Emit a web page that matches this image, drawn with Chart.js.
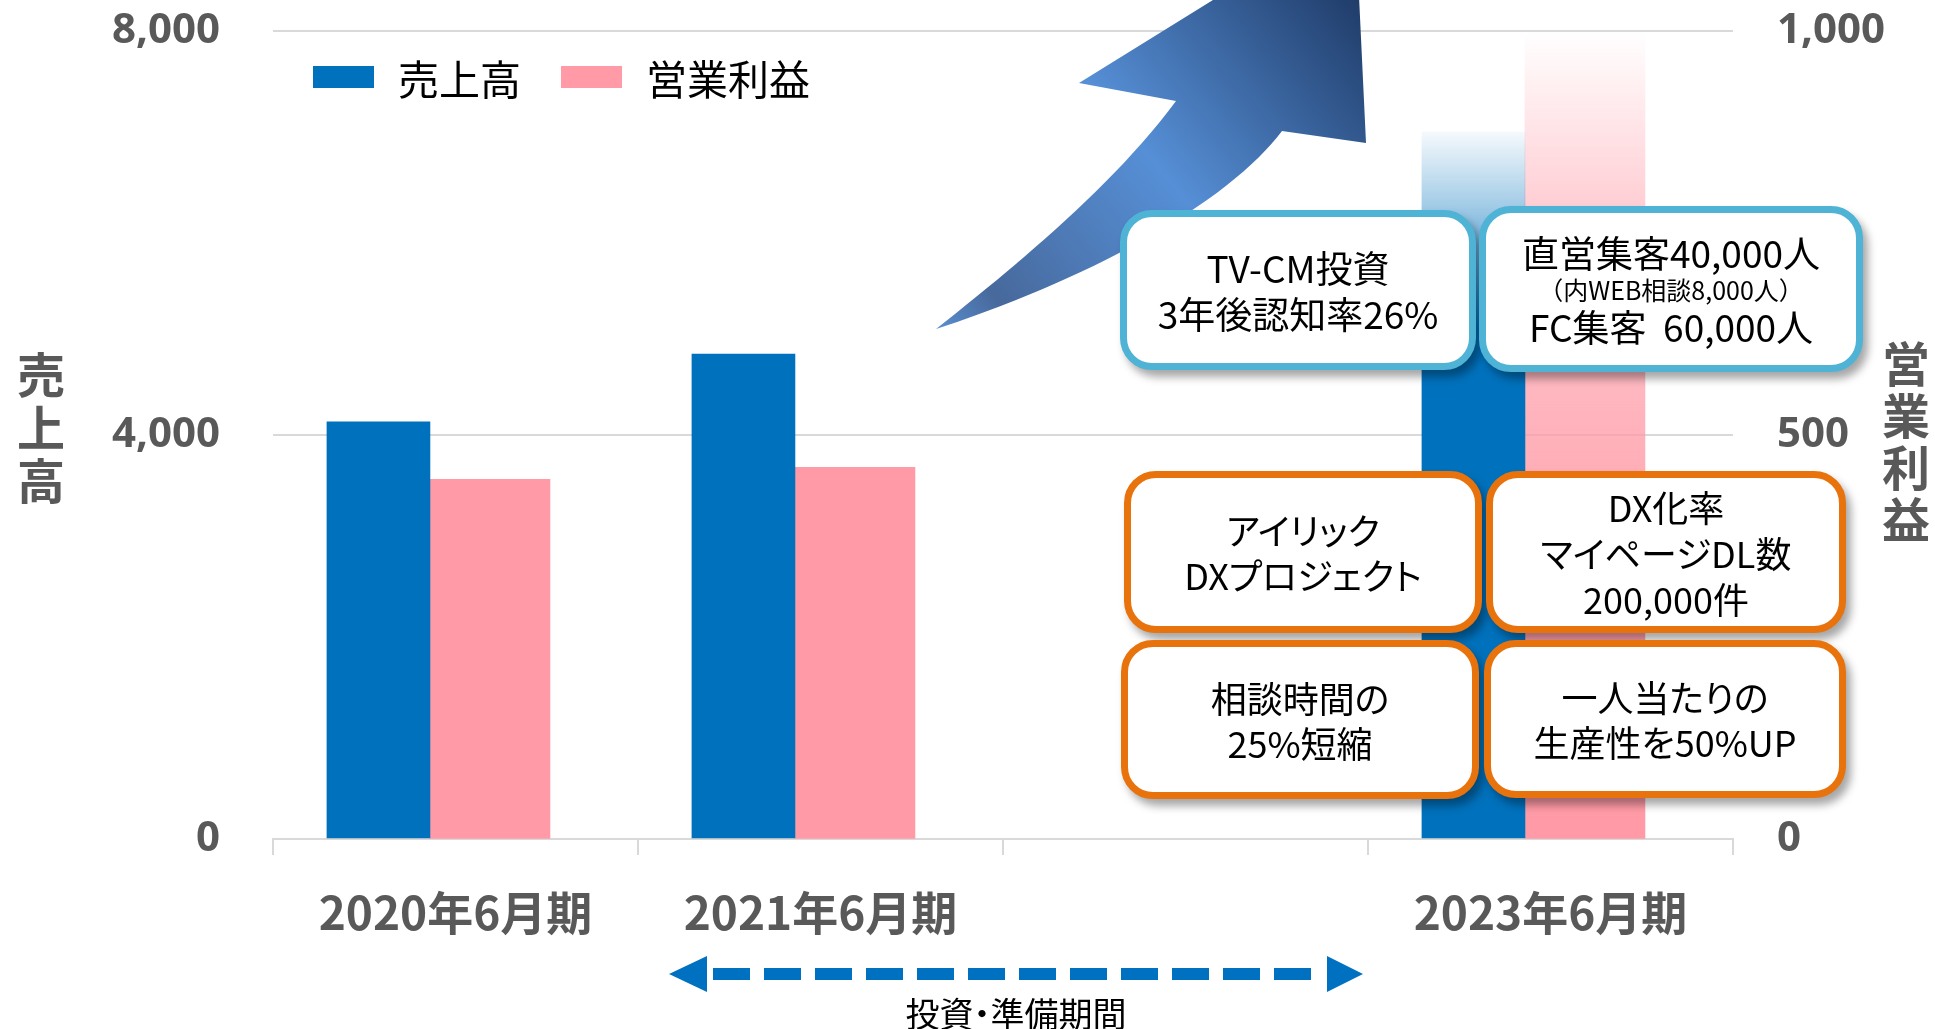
<!DOCTYPE html>
<html lang="ja">
<head>
<meta charset="utf-8">
<title>売上高・営業利益</title>
<script src="https://cdn.jsdelivr.net/npm/chart.js@4.4.1/dist/chart.umd.min.js"></script>
<style>
  html, body { margin: 0; padding: 0; background: #fff; }
  body { width: 1935px; height: 1029px; overflow: hidden; position: relative; font-family: 'Noto Sans CJK JP', sans-serif; }
  #wrap { position: absolute; left: 0; top: 0; width: 1935px; height: 1029px; }
  .axis-title { position: absolute; writing-mode: vertical-rl; text-orientation: upright; font-weight: 700; font-size: 48px; line-height: 48px; color: #595959; }
  #legend { position: absolute; left: 313px; top: 52px; display: flex; align-items: center; font-size: 41px; line-height: 50px; color: #000; }
  #legend .item { display: flex; align-items: center; margin-right: 40px; }
  #legend .swatch { width: 61px; height: 22px; margin-right: 24px; }
  .note { position: absolute; box-sizing: border-box; background: #fff; border-radius: 32px; border: 7px solid #4FB3D6;
          box-shadow: 5px 7px 8px rgba(0,0,0,0.35); display: flex; flex-direction: column; align-items: center; justify-content: center;
          text-align: center; color: #000; font-size: 36px; line-height: 45px; font-feature-settings: "palt"; white-space: pre; }
  .note.orange { border-color: #E8720C; }
  .note .small { font-size: 25px; line-height: 36px; }
  svg.overlay { position: absolute; left: 0; top: 0; width: 1935px; height: 1029px; pointer-events: none; }
  #period { position: absolute; left: 816px; width: 400px; top: 993px; text-align: center; font-size: 34px; line-height: 40px; color: #000; font-feature-settings: "palt"; }
</style>
</head>
<body>
<div id="wrap"><canvas id="chart"></canvas></div>

<svg class="overlay" viewBox="0 0 1935 1029">
  <defs>
    <linearGradient id="upGrad" gradientUnits="userSpaceOnUse" x1="936" y1="329" x2="1360" y2="-20">
      <stop offset="0" stop-color="#5A8FD0"/>
      <stop offset="0.12" stop-color="#47699C"/>
      <stop offset="0.5" stop-color="#568FD6"/>
      <stop offset="1" stop-color="#1D3864"/>
    </linearGradient>
  </defs>
  <path d="M936 329 C1010 270 1110 190 1176 101 L1079 83 L1355 -88 L1366 143 L1282 131 C1230 200 1100 275 936 329 Z" fill="url(#upGrad)"/>
</svg>

<div class="axis-title" style="left:17px; top:351px; letter-spacing:5px;">売上高</div>
<div class="axis-title" style="left:1882px; top:340px; letter-spacing:4px;">営業利益</div>

<div id="legend"></div>

<div class="note" style="left:1120px; top:210px; width:356px; height:160px; font-size:37px; line-height:46px; font-feature-settings:normal;">
  <div>TV-CM投資</div><div>3年後認知率26%</div>
</div>
<div class="note" style="left:1479px; top:206px; width:384px; height:166px; line-height:38px; font-feature-settings:normal;">
  <div style="font-size:37px;">直営集客40,000人</div>
  <div class="small">（内WEB相談8,000人）</div>
  <div style="font-size:37px;">FC集客  60,000人</div>
</div>
<div class="note orange" style="left:1124px; top:471px; width:358px; height:162px;">
  <div>アイリック</div><div>DXプロジェクト</div>
</div>
<div class="note orange" style="left:1486px; top:471px; width:360px; height:162px; line-height:46px;">
  <div>DX化率</div><div>マイページDL数</div><div>200,000件</div>
</div>
<div class="note orange" style="left:1121px; top:640px; width:358px; height:159px;">
  <div>相談時間の</div><div>25%短縮</div>
</div>
<div class="note orange" style="left:1484px; top:640px; width:362px; height:158px;">
  <div>一人当たりの</div><div>生産性を50%UP</div>
</div>

<svg class="overlay" viewBox="0 0 1935 1029">
  <line x1="713" y1="974" x2="1322" y2="974" stroke="#0070C0" stroke-width="12" stroke-dasharray="37 14"/>
  <polygon points="669,974 707,956 707,992" fill="#0070C0"/>
  <polygon points="1363,974 1327,956 1327,992" fill="#0070C0"/>
</svg>
<div id="period">投資・準備期間</div>

<script>
// chart data
const categories = ['2020年6月期', '2021年6月期', '', '2023年6月期'];
const sales = [4130, 4800, null, 7000];      // 売上高 (left axis)
const profit = [445, 460, null, 1000];       // 営業利益 (right axis)
const salesTicks = [0, 4000, 8000];
const profitTicks = [0, 500, 1000];

const BLUE = '0,113,188';
const PINK = '255,154,166';
const GRAY = '#595959';
const GRID = '#D9D9D9';

// the last period is still a forecast, so its bars fade out towards the top
function fadeFill(rgb, stops) {
    return (c) => {
        const chart = c.chart;
        if (c.dataIndex !== categories.length - 1 || !chart.chartArea) {
            return 'rgb(' + rgb + ')';
        }
        const scale = chart.scales[c.dataset.yAxisID];
        const top = scale.getPixelForValue(c.raw.y);
        const bottom = scale.getPixelForValue(0);
        const g = chart.ctx.createLinearGradient(0, top, 0, bottom);
        stops.forEach(([pos, a]) => g.addColorStop(pos, 'rgba(' + rgb + ',' + a + ')'));
        return g;
    };
}

const toPoints = (arr) => arr.map((v, i) => ({ x: i, y: v }));

// the pair of bars sits a little left of the category centre
const barShift = 0.07;

const tickFont = { family: "'Open Sans', 'Noto Sans CJK JP'", size: 42, weight: 'bold' };

const chart = new Chart(document.getElementById('chart').getContext('2d'), {
    type: 'bar',
    data: {
        labels: categories,
        datasets: [{
            label: '売上高',
            data: toPoints(sales),
            xAxisID: 'xb',
            yAxisID: 'y',
            barThickness: 103,
            backgroundColor: fadeFill(BLUE, [[0, 0.04], [0.1, 0.35], [0.28, 1], [1, 1]])
        }, {
            label: '営業利益',
            data: toPoints(profit),
            xAxisID: 'xb',
            yAxisID: 'y1',
            barThickness: 120,
            backgroundColor: fadeFill(PINK, [[0, 0], [0.215, 0.48], [0.49, 0.76], [0.75, 0.95], [1, 1]])
        }]
    },
    options: {
        responsive: true,
        maintainAspectRatio: false,
        animation: false,
        layout: { padding: { top: 31, left: 0, right: 0, bottom: 0 } },
        plugins: {
            legend: { display: false },
            tooltip: { enabled: false }
        },
        scales: {
            x: {
                type: 'category',
                position: 'bottom',
                offset: true,
                grid: { offset: true, drawOnChartArea: false, color: GRID, lineWidth: 2, tickLength: 16 },
                border: { color: GRID, width: 2 },
                ticks: {
                    color: GRAY,
                    font: { family: "'Noto Sans CJK JP'", size: 46, weight: 'bold' },
                    padding: 30,
                    maxRotation: 0,
                    autoSkip: false
                },
                afterFit: (s) => { s.height = 190; }
            },
            xb: {
                type: 'linear',
                display: false,
                bounds: 'data',
                offset: false,
                grid: { offset: false },
                min: -0.5 + barShift,
                max: categories.length - 0.5 + barShift
            },
            y: {
                position: 'left',
                min: salesTicks[0],
                max: salesTicks[salesTicks.length - 1],
                afterBuildTicks: (s) => { s.ticks = salesTicks.map(v => ({ value: v })); },
                ticks: {
                    color: GRAY,
                    font: tickFont,
                    padding: 0,
                    callback: (v) => v.toLocaleString('en-US')
                },
                // invisible tick marks give the gap between labels and plot
                grid: { color: GRID, lineWidth: 2, drawTicks: true, tickLength: 53, tickColor: 'rgba(0,0,0,0)' },
                border: { display: false },
                afterFit: (s) => { s.width = 273; }
            },
            y1: {
                position: 'right',
                min: profitTicks[0],
                max: profitTicks[profitTicks.length - 1],
                afterBuildTicks: (s) => { s.ticks = profitTicks.map(v => ({ value: v })); },
                ticks: {
                    color: GRAY,
                    font: tickFont,
                    padding: 0,
                    callback: (v) => v.toLocaleString('en-US')
                },
                grid: { drawOnChartArea: false, drawTicks: true, tickLength: 44, tickColor: 'rgba(0,0,0,0)' },
                border: { display: false },
                afterFit: (s) => { s.width = 202; }
            }
        }
    }
});

// legend sits inside the plot, so it is built as html from the chart's own items
const legendBox = document.getElementById('legend');
Chart.defaults.plugins.legend.labels.generateLabels(chart).forEach(item => {
    const el = document.createElement('div');
    el.className = 'item';
    const sw = document.createElement('span');
    sw.className = 'swatch';
    sw.style.background = item.fillStyle;
    const tx = document.createElement('span');
    tx.textContent = item.text;
    el.appendChild(sw);
    el.appendChild(tx);
    legendBox.appendChild(el);
});
</script>
</body>
</html>
